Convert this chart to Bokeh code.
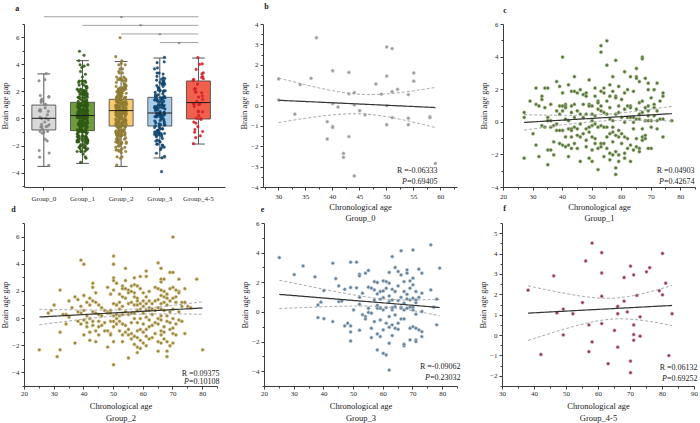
import numpy as np
from bokeh.plotting import figure
from bokeh.models import ColumnDataSource, FixedTicker, LinearAxis, Range1d
from bokeh.core.properties import value
from bokeh.transform import jitter
from bokeh.embed import file_html
from bokeh.resources import INLINE

# ---------------- data ----------------
groups = ["Group_0", "Group_1", "Group_2", "Group_3", "Group_4-5"]

box_q1 = [-0.81, -0.86, -0.52, -0.52, 0.00]
box_med = [0.05, 0.25, 0.62, 0.44, 1.21]
box_q3 = [1.03, 1.23, 1.45, 1.60, 2.81]
box_lo = [-3.50, -3.28, -3.50, -2.88, -1.85]
box_hi = [3.33, 4.31, 4.24, 4.50, 4.50]

sig_from = ["Group_0", "Group_1", "Group_2", "Group_3"]
sig_to = ["Group_4-5", "Group_4-5", "Group_4-5", "Group_4-5"]
sig_mark = ["*", "*", "*", "*"]

r_values = ["-0.06333", "0.04903", "0.09375", "-0.09062", "0.06132"]
p_values = ["0.69405", "0.42674", "0.10108", "0.23032", "0.69252"]

group0_age = [30, 30, 33, 34, 36, 37, 39, 39, 40, 40, 40, 40, 41, 42, 42, 43, 43, 43,
              44, 44, 44, 45, 46, 48, 49, 50, 50, 50, 50, 51, 51, 51, 52, 54, 54, 54,
              55, 55, 58, 58, 59]
group0_gap = [1.33, 0.30, -0.40, 1.05, 1.36, 3.35, -0.77, -1.62, 1.73, 0.12, -1.00, -1.05,
              -0.05, -2.33, -2.52, 1.65, 0.60, -1.50, 0.66, 0.05, -3.43, -0.23, -0.43, 1.08,
              0.58, 2.90, 1.47, 0.02, -0.92, 2.82, 0.70, -0.57, 0.82, 0.56, -0.60, -0.92,
              1.62, 1.22, -0.52, -0.57, -2.82]

group1_age_cols = [27, 29, 30, 31, 32, 33, 34, 35, 36, 37, 38, 39, 40, 41, 42, 43, 44, 45,
                   46, 47, 48, 49, 50, 51, 52, 53, 54, 55, 56, 57, 58, 59, 60, 61, 62, 63,
                   64, 65, 66, 67, 68, 69, 70, 71, 72, 73, 74, 77]
group1_gap_cols = [
    [0.6, 0.3, -2.2], [1.3], [-0.7], [2.1, 1.1, -1.4], [1.0, -2.1], [1.6, 1.4, -0.2],
    [2.1, 0.9, -0.3], [2.1, 0.3, 0.1, -1.7, -2.6], [1.1, 0.1, -1.7, -0.3], [-1.2, -2.0, -0.2],
    [2.5, 0.7, -0.1, -0.5], [2.2, 1.0, 0.5, -0.5, -1.3], [4.0, 1.0, 0.7, 1.8, -1.4, -0.5],
    [1.1, 1.0, 0.9, 0.2, -1.5, -0.9], [2.3, 0.1, -0.4, -1.4, -2.1],
    [1.9, 1.0, 0.6, -0.4, -0.5, -0.9, -1.6], [2.8, 1.9, 1.1, 0.3, -1.3, -0.3],
    [1.8, 0.7, -0.4, -0.8, -1.6], [2.0, 0.5, -2.4, -0.9, -0.1], [1.7, 1.1, 0.3, -0.7],
    [1.6, 1.8, 0.5, -0.4, -1.5, -1.1], [2.6, 1.1, 1.0, -0.3, -0.6, -2.2],
    [1.0, 0.1, -0.9, -2.4, -1.7, 0.5, -0.2], [2.1, 1.6, 0.4, -0.1, -1.3, -1.0],
    [1.3, 1.2, 0.8, -0.3, -1.6, -2.9], [4.7, 4.3, 1.9, 1.0, 0.7, -0.2, -1.3, -1.5],
    [2.1, 0.6, 1.8, -0.3, -1.3, -2.1], [5.0, 3.5, 1.3, 0.5, -0.3, -0.9, -1.6],
    [2.3, 1.6, 0.9, 0.2, -0.7, -1.9, -2.3], [2.8, 1.9, 0.1, -0.3, -0.6, -1.2, -2.0],
    [3.8, 1.6, 1.5, 0.5, -0.8, -1.8, -2.8, -3.2], [2.2, 1.0, 0.6, -0.5, -0.9, -2.0, -2.4],
    [1.4, 0.3, -1.3, -0.7], [3.1, 1.8, 0.8, 0.0, -0.9, -1.9, -2.2], [2.0, 1.0, 0.3, -1.0, -1.6],
    [2.8, 1.0, 0.9, 0.3, -1.4, -2.4], [1.9, 0.3, 0.0, -0.4, -1.7],
    [3.3, 2.8, 2.7, 0.8, 0.2, -1.0, -1.5], [2.5, 1.2, 0.5, 0.2, -1.6, -1.8],
    [4.0, 3.9, 1.3, 0.6, -0.9, -1.1, -0.4], [2.7, 0.9, 0.1, -0.8, -1.0],
    [2.4, 2.0, 1.0, 0.7, 0.4, 0.1, -1.6], [1.5, 0.1, -0.3, -1.6], [2.0, 1.1, 0.9, 0.4],
    [2.4, 0.7, 0.1, -0.4], [1.3, 0.2], [1.8, 1.6, 0.2, -0.9], [0.1]]

group2_age_cols = [25, 28, 29, 30, 31, 32, 33, 34, 35, 36, 37, 38, 39, 40, 41, 42, 43, 44,
                   45, 46, 47, 48, 49, 50, 51, 52, 53, 54, 55, 56, 57, 58, 59, 60, 61, 62,
                   63, 64, 65, 66, 67, 68, 69, 70, 71, 72, 73, 74, 75, 76, 78, 80]
group2_gap_cols = [
    [-2.3], [0.4], [0.6], [1.0], [-2.8], [2.1, -1.0, -2.3], [0.3], [0.3, -0.4], [1.3, 0.1],
    [0.8], [1.6, -1.8], [1.4, 0.5, -0.2], [4.3, 0.9, 0.4, -0.4], [4.0, 0.6, 1.7, -0.1, -1.2],
    [-0.6, 1.2, 0.2, -0.3], [1.5, 1.0, 0.0, -1.6, -1.0], [2.6, 2.3, 1.3, 0.5, -0.2, -0.5],
    [1.9, 1.2, 0.4, -1.7, -0.9], [1.0, 0.3, -0.2, -1.2, -0.6], [0.8, 0.2, -0.5],
    [0.6, -0.3, -0.9], [2.3, 0.5, -2.1, -0.9, 0.4], [1.8, 0.6, -0.2, -1.1, -1.2, 0.4],
    [4.6, 4.0, 3.0, 2.8, 2.1, 1.1, 0.2, -0.2, -0.6, -1.7, -3.4],
    [2.6, 1.0, 0.3, 0.0, -0.4, 1.0], [1.8, 1.2, 0.7, 0.2, -0.2, -0.9],
    [2.4, 2.2, 1.6, 0.9, 0.3, -0.4, -1.2, -1.7], [3.7, 2.8, 2.2, 1.5, 0.5, -0.5, -1.0],
    [2.1, 1.9, 1.1, 0.3, -0.8, -1.2, -2.9], [2.4, 2.0, 1.2, 0.4, -0.3, -1.1, -1.5],
    [3.0, 2.5, 1.9, 1.6, 1.0, 0.4, 0.0, -1.3, -1.9],
    [2.4, 1.5, 1.3, 1.0, 0.6, -0.3, -0.9, -1.4, -2.1, -2.5],
    [3.1, 2.2, 1.1, 0.7, 0.0, -0.8, -1.6, -2.2], [1.9, 1.3, 0.9, 0.4, -0.4, -1.0, -1.8],
    [3.5, 3.1, 1.6, 1.1, 0.6, 0.1, -0.8, -1.3, -2.0], [2.0, 1.3, 0.8, 0.6, -0.1, -0.6, -1.5],
    [1.1, 0.7, 0.3, -0.5, -1.4], [2.3, 1.3, 0.6, -0.3, -1.1],
    [4.1, 2.2, 1.4, 0.8, 0.0, -0.4, -1.7, -2.4],
    [3.7, 2.9, 2.7, 2.1, 1.7, 1.1, 0.7, 0.2, -0.1, -0.9, -1.2, -1.8],
    [2.9, 2.0, 1.6, 1.2, 0.6, -0.6, -1.0, -1.5], [1.8, 1.5, 1.0, 0.2, -0.2, -1.7, -2.4, -2.8],
    [3.4, 2.2, 1.3, 0.5, -0.3, -0.8, -2.0], [6.0, 3.4, 2.3, 1.5, 0.7, 0.0, -0.7, -1.1, -1.8],
    [2.1, 1.6, 1.2, -0.4, -1.2], [2.9, 2.0, 1.9, 0.5, -0.1], [1.2, 0.9, -0.2],
    [2.2, 1.2, -1.1], [0.9], [0.8], [2.9], [-2.3]]

group3_age = [25, 30, 33, 37, 38, 38, 39, 40, 40, 43, 43, 44, 45, 45, 46, 47, 47, 48, 49, 49,
              49, 49, 49, 50, 51, 51, 52, 52, 52, 52, 52, 53, 53, 54, 54, 54, 55, 55, 55, 55,
              56, 56, 56, 56, 57, 57, 57, 57, 58, 58, 58, 58, 58, 58, 59, 59, 59, 59, 59, 60,
              60, 60, 60, 60, 60, 61, 61, 61, 61, 61, 62, 62, 62, 62, 62, 62, 62, 62, 63, 63,
              63, 63, 63, 63, 63, 64, 64, 64, 64, 64, 65, 65, 65, 65, 65, 66, 66, 66, 66, 66,
              66, 67, 67, 67, 67, 67, 67, 67, 68, 68, 68, 68, 68, 69, 69, 69, 69, 69, 69, 70,
              70, 70, 70, 70, 70, 70, 71, 71, 71, 71, 71, 71, 71, 72, 72, 72, 73, 73, 73, 73,
              73, 76, 76, 77, 78, 78, 79]
group3_gap = [3.70, 2.55, 3.14, 2.40, 0.50, -0.35, 0.69, -0.42, 1.47, 3.32, -0.62, 2.28, 1.79,
              0.73, 0.77, 1.56, -0.91, -0.73, 3.39, 1.68, -0.91, -1.32, -1.93, 0.17, 3.39, 1.66,
              1.02, 2.58, 2.47, 0.55, -1.20, 1.30, -0.15, -0.28, 2.65, -0.44, 2.83, 1.70, 0.28,
              0.00, 1.64, -0.05, -1.07, -1.70, 0.84, 2.08, 1.52, -0.62, 0.28, 1.25, 0.48, 2.02,
              -1.45, -2.53, -1.63, 0.28, -0.51, 0.89, 1.41, -1.18, 2.13, 1.00, 0.17, -2.76, 1.45,
              2.08, 0.33, -2.87, -0.73, 1.63, 2.70, 1.11, 1.97, -0.28, -3.89, -2.08, 0.73, -1.00,
              0.17, -0.84, 1.56, 3.77, -1.56, 0.84, 0.33, -1.07, 3.03, -0.17, 1.41, 0.39, 0.80,
              2.76, -0.73, -1.14, 1.79, 0.35, 4.16, 2.53, -0.44, 1.02, 0.28, 1.41, 0.17, -2.26,
              -2.15, 2.08, -0.44, 0.62, 2.65, 0.91, 2.87, 0.28, 1.22, 2.13, -1.07, -1.86, 0.35,
              1.63, 0.84, 2.31, 0.17, 4.22, -0.96, 0.96, 1.86, 0.35, -1.86, 0.66, -1.07, -1.97,
              1.41, -0.12, 0.84, 2.92, -1.18, 1.02, 2.65, 0.06, -1.30, -1.63, 1.30, 4.56, 1.52,
              0.35, 0.89, -0.84, 2.99]

group45_age = [38, 42, 46, 47, 49, 49, 52, 55, 56, 57, 57, 58, 58, 61, 61, 61, 61, 63, 65, 66,
               66, 66, 68, 68, 69, 70, 70, 70, 71, 71, 71, 71, 72, 73, 73, 75, 76, 79, 80, 80,
               81, 82, 83]
group45_gap = [2.23, -0.93, 2.93, 1.11, 1.30, 0.03, 1.07, 1.62, 3.66, 0.52, -0.79, 4.54, -0.31,
               4.07, 3.07, 1.93, 0.59, -1.38, 0.25, -0.57, 1.43, 1.07, 2.85, 1.69, 1.16, 3.41,
               -1.25, -1.82, 2.98, 0.52, 0.05, -0.23, 1.97, 0.92, -0.03, 3.13, 3.33, 2.20, 4.03,
               2.00, 2.57, -0.98, 1.07]

# ---------------- helpers ----------------
W, H = 700, 423
FONT = "Liberation Serif"
AX = "#3c3c3c"


def expand(cols, gaps):
    ages, vals = [], []
    for a, g in zip(cols, gaps):
        for v in g:
            ages.append(a)
            vals.append(v)
    return ages, vals


group1_age, group1_gap = expand(group1_age_cols, group1_gap_cols)
group2_age, group2_gap = expand(group2_age_cols, group2_gap_cols)

# one canvas; default ranges are canvas pixels (y downward)
p = figure(width=W, height=H, x_range=Range1d(0, W), y_range=Range1d(H, 0),
           x_axis_type=None, y_axis_type=None, output_backend="svg",
           toolbar_location=None, title=None, min_border=0)
p.outline_line_color = None
p.background_fill_color = "white"
p.border_fill_color = "white"

# panel frames on the canvas: left, right, top, bottom (pixels)
frames = {
    "a": (24, 225, 8, 187),
    "b": (263, 457, 24, 187),
    "c": (503, 695, 24, 187),
    "d": (24, 217, 223, 386),
    "e": (264, 457, 223, 386),
    "f": (502, 694, 223, 386),
}
limits = {
    "a": ((-0.5, 4.7), (-5.06, 8.16)),
    "b": ((27.2, 63.1), (-4, 4)),
    "c": ((20, 85), (-4, 6)),
    "d": ((20, 85), (-5, 7)),
    "e": ((20, 85), (-5, 6)),
    "f": ((30, 90), (-2.5, 5.5)),
}
xr_extra, yr_extra = {}, {}
for k, (l, r, t, b) in frames.items():
    (x0, x1), (y0, y1) = limits[k]
    sx = (x1 - x0) / (r - l)
    sy = (y1 - y0) / (b - t)
    xr_extra[k] = Range1d(x0 - l * sx, x1 + (W - r) * sx)
    yr_extra[k] = Range1d(y0 - (H - b) * sy, y1 + t * sy)
p.extra_x_ranges = xr_extra
p.extra_y_ranges = yr_extra


def style_axis(ax, tick_standoff, label_standoff, line_h):
    ax.axis_line_color = AX
    ax.axis_line_width = 1
    ax.major_tick_line_color = AX
    ax.minor_tick_line_color = AX
    ax.major_tick_in = 0
    ax.major_tick_out = 3
    ax.minor_tick_in = 0
    ax.minor_tick_out = 2
    ax.major_label_text_font = FONT
    ax.major_label_text_font_size = "7px"
    ax.major_label_text_color = "#2a2a2a"
    ax.axis_label_text_font = FONT
    ax.axis_label_text_font_size = "8.5px"
    ax.axis_label_text_font_style = "normal"
    ax.axis_label_text_color = "#1a1a1a"
    ax.axis_label_text_line_height = line_h
    ax.major_label_standoff = tick_standoff
    ax.axis_label_standoff = label_standoff


def add_axes(k, xt, xmt, yt, ymt, xlabel, ybounds=None, xoverrides=None, top_row=True):
    (x0, x1), (y0, y1) = limits[k]
    xa = LinearAxis(x_range_name=k, y_range_name=k, fixed_location=y0, bounds=(x0, x1),
                    ticker=FixedTicker(ticks=xt, minor_ticks=xmt), axis_label=xlabel)
    if top_row:
        style_axis(xa, 4, 0, 1.18)
    else:
        style_axis(xa, 2, 2, 1.22)
    if xoverrides:
        xa.major_label_overrides = xoverrides
    p.add_layout(xa, "below")
    ya = LinearAxis(x_range_name=k, y_range_name=k, fixed_location=x0,
                    bounds=ybounds if ybounds else (y0, y1),
                    ticker=FixedTicker(ticks=yt, minor_ticks=ymt), axis_label="Brain age gap")
    style_axis(ya, 2, -1, 1.2)
    p.add_layout(ya, "left")


def canvas_text(x, y, t, size="8px", style="normal", align="left"):
    p.text(x=[x], y=[y], text=[t], text_font=value(FONT), text_font_size=size,
           text_font_style=style, text_color="#1a1a1a", text_align=align,
           text_baseline="middle")


CHAR_W = {"=": 0.564, ".": 0.25, "-": 0.333}


def text_w(s, size):
    return sum(CHAR_W.get(c, 0.5) for c in s) * size


def stats(k, r, pv, dx, dyr, dyp):
    l, rr, t, b = frames[k]
    x = rr + dx
    canvas_text(x, b - dyr, "R =" + r, align="right")
    rest = "=" + pv
    canvas_text(x, b - dyp, rest, align="right")
    canvas_text(x - text_w(rest, 8), b - dyp, "P", style="italic", align="right")


def scatter_panel(k, age, gap, fill, edge):
    x = np.array(age, dtype=float)
    y = np.array(gap, dtype=float)
    p.scatter(x, y, size=3.3, marker="circle", fill_color=fill, line_color=edge,
              line_width=0.6, x_range_name=k, y_range_name=k)
    n = len(x)
    slope, icpt = np.polyfit(x, y, 1)
    xs = np.linspace(x.min(), x.max(), 80)
    yh = icpt + slope * xs
    s = np.sqrt(np.sum((y - (icpt + slope * x)) ** 2) / (n - 2))
    sxx = np.sum((x - x.mean()) ** 2)
    tcrit = 1.96 + 2.4 / (n - 2)
    half = tcrit * s * np.sqrt(1.0 / n + (xs - x.mean()) ** 2 / sxx)
    for yy in (yh + half, yh - half):
        p.line(xs, yy, line_color="#a6a6a6", line_dash="3 2", line_width=1,
               x_range_name=k, y_range_name=k)
    p.line(xs, yh, line_color="#333333", line_width=1.2, x_range_name=k, y_range_name=k)


# ---------------- panel a ----------------
add_axes("a", list(range(len(groups))), [], [-4, -2, 0, 2, 4, 6], [-5, -3, -1, 1, 3, 5, 7],
         None, ybounds=(-5.06, 7), xoverrides={i: g for i, g in enumerate(groups)})

box_fill = ["#d9d9d9", "#6f9a3e", "#f8ca6e", "#a7cce9", "#f0604d"]
pt_color = ["#878787", "#2f5a14", "#8f7c33", "#114670", "#d21f28"]
idx = np.arange(len(groups))
bsrc = ColumnDataSource(dict(x=idx, q1=box_q1, med=box_med, q3=box_q3, lo=box_lo, hi=box_hi,
                             fill=box_fill, cl=idx - 0.165, cr=idx + 0.165,
                             ml=idx - 0.31, mr=idx + 0.31))
kw = dict(source=bsrc, x_range_name="a", y_range_name="a")
p.segment(x0="x", y0="q3", x1="x", y1="hi", line_color="#555555", line_width=1, **kw)
p.segment(x0="x", y0="q1", x1="x", y1="lo", line_color="#555555", line_width=1, **kw)
p.segment(x0="cl", y0="hi", x1="cr", y1="hi", line_color="#555555", line_width=1, **kw)
p.segment(x0="cl", y0="lo", x1="cr", y1="lo", line_color="#555555", line_width=1, **kw)
p.vbar(x="x", width=0.62, bottom="q1", top="q3", fill_color="fill", line_color="#404040",
       line_width=0.8, **kw)

all_gaps = [group0_gap, group1_gap, group2_gap, group3_gap, group45_gap]
px, py, pc = [], [], []
for i, g in enumerate(all_gaps):
    px += [i] * len(g)
    py += g
    pc += [pt_color[i]] * len(g)
psrc = ColumnDataSource(dict(gx=px, gap=py, color=pc))
p.scatter(x=jitter("gx", width=0.28, distribution="uniform"), y="gap", source=psrc, size=2.7,
          marker="circle", fill_color="color", line_color="color", line_width=0.3,
          fill_alpha=0.9, x_range_name="a", y_range_name="a")
p.segment(x0="ml", y0="med", x1="mr", y1="med", line_color="#1a1a1a", line_width=1, **kw)

lvl = [7.55 - 0.635 * i for i in range(len(sig_from))]
s_x0 = [groups.index(g) for g in sig_from]
s_x1 = [groups.index(g) for g in sig_to]
ssrc = ColumnDataSource(dict(x0=s_x0, x1=s_x1, y=lvl,
                             mx=[(a + b) / 2 for a, b in zip(s_x0, s_x1)], t=sig_mark))
p.segment(x0="x0", y0="y", x1="x1", y1="y", source=ssrc, line_color="#8a8a8a", line_width=0.8,
          x_range_name="a", y_range_name="a")
p.text(x="mx", y="y", text="t", source=ssrc, text_font=value(FONT), text_font_size="7px",
       text_align="center", text_baseline="alphabetic", text_color="#555555", y_offset=1,
       x_range_name="a", y_range_name="a")

# ---------------- panels b..f ----------------
x_20_80 = [20, 30, 40, 50, 60, 70, 80]
x_20_80_minor = [25, 35, 45, 55, 65, 75, 85]

add_axes("b", [30, 35, 40, 45, 50, 55, 60], [27.5, 32.5, 37.5, 42.5, 47.5, 52.5, 57.5, 62.5],
         [-4, -3, -2, -1, 0, 1, 2, 3, 4], [-3.5, -2.5, -1.5, -0.5, 0.5, 1.5, 2.5, 3.5],
         "Chronological age\nGroup_0")
scatter_panel("b", group0_age, group0_gap, "#9a9a9a", "#d4d4d4")
stats("b", r_values[0], p_values[0], -20, 16.6, 5.6)

add_axes("c", x_20_80, x_20_80_minor, [-4, -2, 0, 2, 4, 6], [-3, -1, 1, 3, 5],
         "Chronological age\nGroup_1")
scatter_panel("c", group1_age, group1_gap, "#56733a", "#a9bd8e")
stats("c", r_values[1], p_values[1], -1, 17, 6)

add_axes("d", x_20_80, x_20_80_minor, [-4, -2, 0, 2, 4, 6], [-5, -3, -1, 1, 3, 5, 7],
         "Chronological age\nGroup_2", top_row=False)
scatter_panel("d", group2_age, group2_gap, "#9a8543", "#dccb93")
stats("d", r_values[2], p_values[2], 2, 13.3, 5)

add_axes("e", x_20_80, x_20_80_minor, [-4, -2, 0, 2, 4, 6], [-5, -3, -1, 1, 3, 5],
         "Chronological age\nGroup_3", top_row=False)
scatter_panel("e", group3_age, group3_gap, "#64819a", "#bccbd9")
stats("e", r_values[3], p_values[3], 3, 20, 9.3)

add_axes("f", [30, 40, 50, 60, 70, 80, 90], [35, 45, 55, 65, 75, 85],
         [-2, -1, 0, 1, 2, 3, 4, 5], [-2.5, -1.5, -0.5, 0.5, 1.5, 2.5, 3.5, 4.5, 5.5],
         "Chronological age\nGroup_4-5", top_row=False)
scatter_panel("f", group45_age, group45_gap, "#833f53", "#e4aabb")
stats("f", r_values[4], p_values[4], 3, 19.3, 7.7)

# panel letters
for t, (lx, ly) in zip("abcdef", [(16.7, 8.3), (266, 5.7), (504.5, 10), (13, 208.5),
                                   (262, 208), (504, 208)]):
    canvas_text(lx, ly, t, size="8px", style="bold", align="center")

open("out.html", "w").write(file_html(p, INLINE))
